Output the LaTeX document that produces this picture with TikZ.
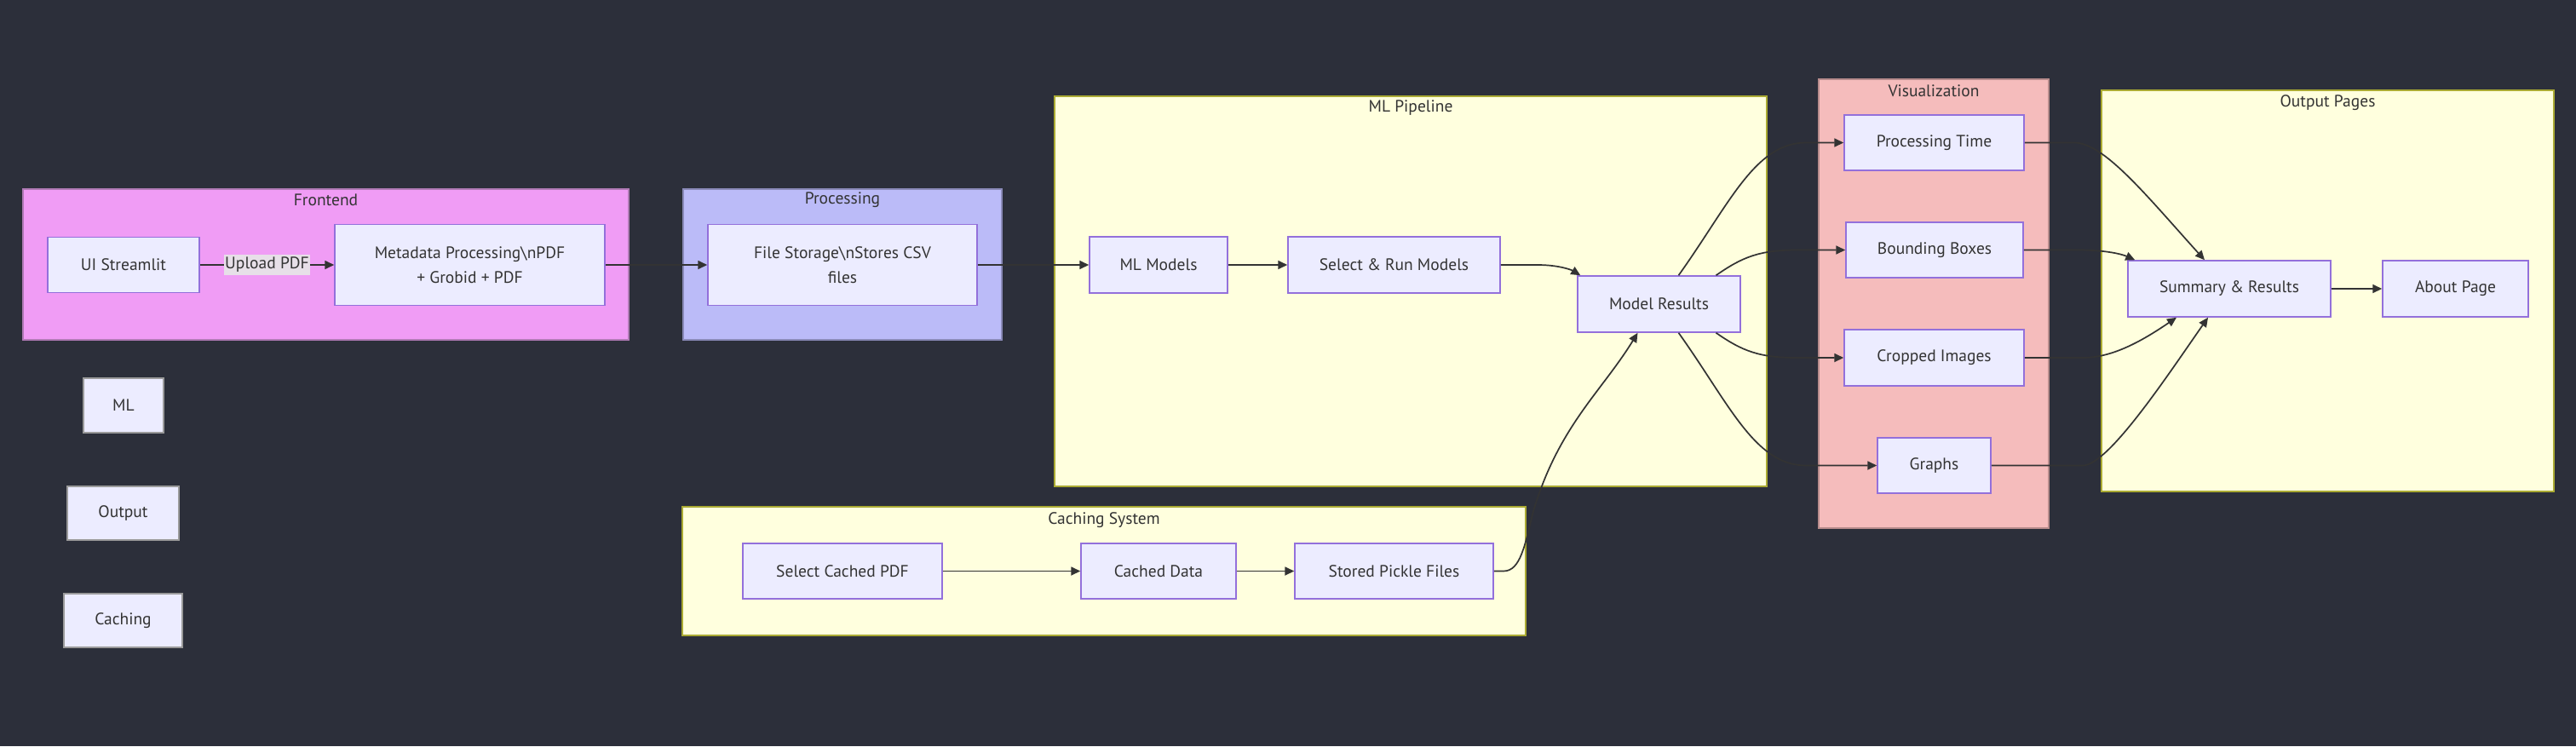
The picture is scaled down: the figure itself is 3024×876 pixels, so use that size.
\documentclass[tikz,border=0pt]{standalone}
\usepackage{fontspec}
\setmainfont{PT Sans}
\usetikzlibrary{arrows.meta,calc}
\definecolor{bgc}{HTML}{2C2F3A}
\definecolor{nodefill}{HTML}{ECECFF}
\definecolor{nodeborder}{HTML}{9370DB}
\definecolor{txt}{HTML}{333333}
\definecolor{edgec}{HTML}{333333}
\definecolor{yfill}{HTML}{FFFFDE}
\definecolor{yborder}{HTML}{AAAA33}
\definecolor{pinkfill}{HTML}{F09CF5}
\definecolor{pinkborder}{HTML}{B07AB5}
\definecolor{bluefill}{HTML}{BBBBF8}
\definecolor{blueborder}{HTML}{8A8AB8}
\definecolor{redfill}{HTML}{F5BCBC}
\definecolor{redborder}{HTML}{B88C8C}
\definecolor{lblfill}{HTML}{E7DFE8}
\definecolor{legborder}{HTML}{9A9A9A}
\tikzset{
  nd/.style={draw=nodeborder, fill=nodefill, line width=1.5pt, text=txt, inner sep=0pt,
    font=\fontsize{19.5}{29}\selectfont, align=center},
  leg/.style={draw=legborder, fill=nodefill, line width=1.5pt, text=txt, inner sep=0pt,
    font=\fontsize{19.5}{29}\selectfont},
  clus/.style={inner sep=0pt, line width=1.5pt},
  ttl/.style={text=txt, inner sep=0pt, font=\fontsize{19.5}{24}\selectfont},
  edge/.style={draw=edgec, line width=1.7pt, -{Triangle[length=11pt,width=10pt]}},
  lbl/.style={fill=lblfill, text=txt, inner xsep=1pt, inner ysep=3pt, font=\fontsize{19.5}{24}\selectfont}
}
\begin{document}
\begin{tikzpicture}[x=1pt,y=-1pt]
\fill[bgc] (0,0) rectangle (3024,876);
\useasboundingbox (0,0) rectangle (3024,876);

% clusters
\node[clus, draw=pinkborder, fill=pinkfill, minimum width=711, minimum height=177] (cfront) at (382.5,310.5) {};
\node[ttl] (tfront) at ([yshift=-13.5pt]cfront.north) {Frontend};
\node[clus, draw=blueborder, fill=bluefill, minimum width=374, minimum height=177] (cproc) at (989,310.5) {};
\node[ttl] (tproc) at ([yshift=-13.5pt]cproc.north) {Processing};
\node[clus, draw=yborder, fill=yfill, minimum width=836, minimum height=458] (cml) at (1656,342) {};
\node[ttl] (tml) at ([yshift=-14pt]cml.north) {ML Pipeline};
\node[clus, draw=yborder, fill=yfill, minimum width=990, minimum height=151] (ccache) at (1296,670.5) {};
\node[ttl] (tcache) at ([yshift=-16pt]ccache.north) {Caching System};
\node[clus, draw=redborder, fill=redfill, minimum width=270, minimum height=527] (cvis) at (2270,356.5) {};
\node[ttl] (tvis) at ([yshift=-14pt]cvis.north) {Visualization};
\node[clus, draw=yborder, fill=yfill, minimum width=531, minimum height=471] (cout) at (2732.5,341.5) {};
\node[ttl] (tout) at ([yshift=-15pt]cout.north) {Output Pages};

% nodes
\node[nd, minimum width=178, minimum height=65] (ui) at (145,311) {UI Streamlit};
\node[nd, minimum width=317, minimum height=95] (meta) at (551.5,311) {Metadata Processing\textbackslash nPDF\\+ Grobid + PDF};
\node[nd, minimum width=316, minimum height=95] (fs) at (989,311) {File Storage\textbackslash nStores CSV\\files};
\node[nd, minimum width=162, minimum height=66] (mlm) at (1360,311) {ML Models};
\node[nd, minimum width=249, minimum height=66] (srm) at (1636.5,311) {Select \& Run Models};
\node[nd, minimum width=191, minimum height=66] (mr) at (1947.5,357) {Model Results};
\node[nd, minimum width=211, minimum height=65] (pt) at (2270.5,167.5) {Processing Time};
\node[nd, minimum width=208, minimum height=65] (bb) at (2271,293.5) {Bounding Boxes};
\node[nd, minimum width=211, minimum height=66] (ci) at (2270.5,420) {Cropped Images};
\node[nd, minimum width=133, minimum height=65] (gr) at (2270.5,546.5) {Graphs};
\node[nd, minimum width=238, minimum height=66] (sr) at (2617,339) {Summary \& Results};
\node[nd, minimum width=171, minimum height=66] (ab) at (2882.5,339) {About Page};
\node[nd, minimum width=234, minimum height=65] (scp) at (989,670.5) {Select Cached PDF};
\node[nd, minimum width=182, minimum height=65] (cd) at (1360,670.5) {Cached Data};
\node[nd, minimum width=233, minimum height=65] (spf) at (1636.5,670.5) {Stored Pickle Files};

% legend boxes
\node[leg, minimum width=94, minimum height=64] (lml) at (145,476) {ML};
\node[leg, minimum width=131, minimum height=63] (lout) at (144.5,602.5) {Output};
\node[leg, minimum width=139, minimum height=63] (lcache) at (144.5,728.5) {Caching};

% edges
\draw[edge] (ui) -- (meta) node[lbl, midway] {Upload PDF};
\draw[edge] (meta) -- (fs);
\draw[edge] (fs) -- (mlm);
\draw[edge] (mlm) -- (srm);
\draw[edge] (srm.east) -- (1805,311) .. controls (1830,311) and (1845,317) .. ([xshift=4pt]mr.north west);
\draw[edge] (scp) -- (cd);
\draw[edge] (cd) -- (spf);
\draw[edge] (spf.east) -- (1765,670.5) .. controls (1785,670.5) and (1790,640) .. (1800,600) .. controls (1830,500) and (1880,460) .. ([xshift=-25pt]mr.south);

\draw[edge] ([xshift=23pt]mr.north) .. controls (2030,240) and (2060,167.5) .. (2120,167.5) -- (pt.west);
\draw[edge] ([xshift=67pt]mr.north) .. controls (2045,302) and (2065,293.5) .. (2110,293.5) -- (bb.west);
\draw[edge] ([xshift=67pt]mr.south) .. controls (2045,412) and (2065,420) .. (2110,420) -- (ci.west);
\draw[edge] ([xshift=23pt]mr.south) .. controls (2030,474) and (2060,546.5) .. (2120,546.5) -- (gr.west);

\draw[edge] (pt.east) -- (2435,167.5) .. controls (2470,167.5) and (2520,230) .. ([xshift=-29pt]sr.north);
\draw[edge] (bb.east) -- (2440,293.5) .. controls (2470,293.5) and (2490,298) .. ([xshift=9pt]sr.north west);
\draw[edge] (ci.east) -- (2445,420) .. controls (2480,420) and (2515,400) .. ([xshift=-62pt]sr.south);
\draw[edge] (gr.east) -- (2445,546.5) .. controls (2475,546.5) and (2545,440) .. ([xshift=-25pt]sr.south);
\draw[edge] (sr) -- (ab);
\end{tikzpicture}
\end{document}
